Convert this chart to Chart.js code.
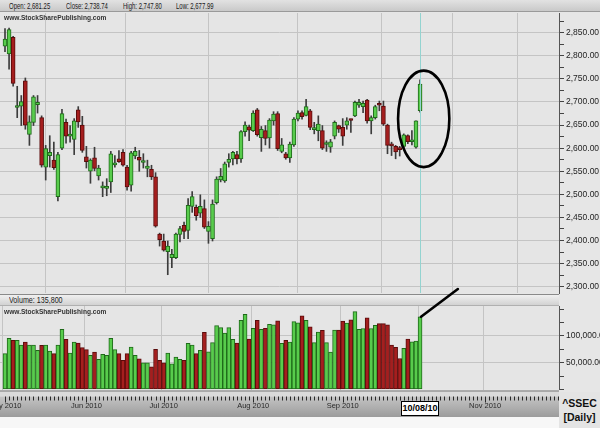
<!DOCTYPE html>
<html><head><meta charset="utf-8">
<script src="https://cdn.jsdelivr.net/npm/chart.js@4.4.1/dist/chart.umd.min.js"></script>
<style>
html,body{margin:0;padding:0;width:600px;height:428px;overflow:hidden;background:#e6e6e6;font-family:"Liberation Sans",Arial,sans-serif;}
.abs{position:absolute;}
#topbar{left:0;top:0;width:600px;height:12px;background:linear-gradient(#e2e2e2,#c9c9c9);border-bottom:1px solid #9a9a9a;box-sizing:border-box;}
#topbar span{position:absolute;top:0;font-size:8.8px;line-height:12px;color:#1a1a1a;white-space:nowrap;transform:scaleX(0.68);transform-origin:0 50%;}
.wm{font-size:6.6px;font-weight:bold;color:#333;white-space:nowrap;}
#volbar{left:0;top:294px;width:559px;height:12px;background:linear-gradient(#f0f0f0,#d2d2d2);border-top:1px solid #8a8a8a;border-bottom:1px solid #b0b0b0;box-sizing:border-box;}
#volbar span{position:absolute;left:9px;top:0;font-size:8.5px;line-height:11px;color:#1a1a1a;transform:scaleX(0.84);transform-origin:0 50%;white-space:nowrap;}
#pc{left:0;top:12px;}
#vc{left:0;top:295px;}
#sym{left:559px;top:392px;width:41px;height:36px;background:#e4e4e4;text-align:center;font-weight:bold;font-size:10.5px;line-height:14px;color:#111;padding-top:4px;box-sizing:border-box;}
#datebox{top:401px;height:15px;width:38px;background:#fff;border:1px solid #000;box-sizing:border-box;font-size:9px;font-weight:bold;line-height:13px;text-align:center;color:#000;}
#bottomwhite{left:0;top:417px;width:559px;height:11px;background:#f7f7f7;}
svg{position:absolute;left:0;top:0;}
</style></head>
<body>
<div id="topbar" class="abs"><span id="tO" style="left:9px"></span><span id="tC" style="left:66px"></span><span id="tH" style="left:123px"></span><span id="tL" style="left:176px"></span></div>
<div id="bottomwhite" class="abs"></div>
<canvas id="pc" class="abs" width="600" height="283"></canvas>
<div class="abs wm" style="left:4px;top:14px;">www.StockSharePublishing.com</div>
<div id="volbar" class="abs"><span id="volTxt"></span></div>
<canvas id="vc" class="abs" width="600" height="133"></canvas>
<div class="abs wm" style="left:4px;top:308px;">www.StockSharePublishing.com</div>
<div id="sym" class="abs">^SSEC<br>[Daily]</div>
<div id="datebox" class="abs"></div>
<svg id="ann" width="600" height="428"></svg>
<script>
// ---- trading-day categories (Shanghai, 2010) ----
const daysMay = [4,5,6,7,10,11,12,13,14,17,18,19,20,21,24,25,26,27,28,31];
const daysJun = [1,2,3,4,7,8,9,10,11,17,18,21,22,23,24,25,28,29,30];
const daysJul = [1,2,5,6,7,8,9,12,13,14,15,16,19,20,21,22,23,26,27,28,29,30];
const daysAug = [2,3,4,5,6,9,10,11,12,13,16,17,18,19,20,23,24,25,26,27,30,31];
const daysSep = [1,2,3,6,7,8,9,10,13,14,15,16,17,20,21,27,28,29,30];
const daysOct = [8,11,12,13,14,15,18,19,20,21,22,25,26,27,28,29];
const daysNov = [1,2,3,4,5,8,9,10,11,12,15,16,17,18,19,22,23,24,25,26,29,30];
const monthLabels = ['May 2010','Jun 2010','Jul 2010','Aug 2010','Sep 2010','Oct 2010','Nov 2010'];
const monthNums = [5,6,7,8,9,10,11];

// ---- daily OHLC (May 4 – Oct 8, 2010) ----
const open = [2821,2804,2840,2688,2691,2746,2630,2656,2694,2666,2559,2584,2574,2495,2600,2656,2626,2619,2683,2650,
2581,2550,2579,2540,2514,2513,2527,2564,2577,2591,2559,2520,2583,2580,2569,2556,2554,2538,2414,2399,
2376,2363,2363,2413,2433,2422,2474,2472,2459,2469,2420,2404,2482,2531,2529,2569,2577,2586,2577,2636,
2646,2638,2683,2623,2638,2622,2659,2675,2593,2588,2579,2607,2663,2677,2671,2681,2640,2638,2638,2608,
2602,2626,2649,2645,2650,2661,2670,2693,2690,2704,2659,2666,2696,2691,2650,2609,2604,2598,2604,2627,
2614,2602,2681.25];
const high = [2859,2860,2842,2734,2714,2752,2670,2714,2714,2670,2606,2627,2613,2591,2684,2663,2649,2664,2690,2669,
2604,2577,2602,2563,2527,2534,2593,2584,2595,2597,2563,2593,2602,2595,2588,2574,2563,2547,2416,2414,
2399,2381,2416,2431,2440,2491,2506,2477,2499,2488,2441,2488,2538,2556,2570,2588,2593,2593,2638,2657,
2650,2681,2686,2647,2649,2664,2679,2679,2621,2591,2613,2666,2681,2681,2706,2684,2656,2670,2649,2616,
2619,2659,2650,2664,2666,2663,2702,2706,2702,2706,2670,2693,2702,2702,2652,2613,2606,2604,2631,2629,
2638,2659,2747.80];
const low = [2809,2771,2734,2666,2649,2641,2606,2649,2676,2559,2531,2559,2554,2486,2597,2611,2613,2586,2645,2591,
2557,2524,2551,2531,2495,2497,2504,2559,2569,2561,2509,2507,2577,2550,2557,2538,2532,2429,2388,2377,
2326,2341,2361,2397,2404,2404,2461,2444,2450,2426,2394,2399,2479,2527,2526,2559,2564,2566,2569,2626,
2616,2636,2626,2593,2607,2600,2650,2595,2590,2576,2569,2604,2659,2663,2670,2640,2631,2616,2597,2593,
2591,2620,2634,2606,2641,2634,2668,2688,2677,2654,2631,2663,2681,2649,2588,2584,2577,2583,2600,2610,
2607,2600,2677.99];
const close = [2836,2857,2740,2690,2701,2650,2657,2711,2699,2563,2599,2591,2558,2586,2675,2626,2630,2659,2657,2595,
2571,2574,2556,2557,2516,2517,2588,2566,2571,2563,2516,2590,2593,2574,2571,2561,2538,2431,2402,2379,
2388,2370,2414,2426,2420,2476,2495,2454,2474,2429,2431,2479,2533,2539,2566,2576,2591,2577,2636,2650,
2639,2676,2629,2641,2621,2661,2674,2599,2607,2579,2609,2663,2676,2668,2690,2645,2642,2652,2600,2610,
2614,2656,2641,2626,2659,2660,2699,2699,2697,2659,2666,2690,2693,2652,2606,2605,2592,2597,2629,2614,
2616,2659,2738.74];
const volume = [66900,95600,91900,91900,83100,88800,83100,83100,73100,82500,83100,71900,66900,83100,112500,93800,68100,88800,86900,78100,
74400,63800,70000,56300,65600,63800,95600,74400,66900,54400,66900,79400,63800,57500,50000,50000,42500,75000,54400,50000,
68100,48100,60600,56300,54400,86300,83100,66900,73100,106900,70600,87500,119400,115600,105600,115600,93800,86900,129400,140600,
94400,114400,129400,112500,114400,121900,120600,128100,86300,91900,88800,126900,124400,137500,129000,117000,87500,107500,110600,87500,
70000,111000,111000,128000,124000,130000,145600,112500,114000,134000,114000,120000,123000,123000,120600,83000,79000,58000,77000,94000,
89000,90600,135800];

// ---- axis tick values ----
const priceTickStep = 25, priceTickFirst = 2300, priceTickLast = 2875, priceLabelStep = 50;
const volTicks = [0,25000,50000,75000,100000,125000,150000];
const volLabelTicks = [50000,100000];

// ---- annotations (data units) ----
const ringBox = {fromIdx: 96.6, toIdx: 109.2, low: 2559, high: 2768};
const arrowEnd = {idx: 111.3, pxAbovePanel: 6};

// build categories
const allMonths = [daysMay,daysJun,daysJul,daysAug,daysSep,daysOct,daysNov];
const dates = []; const monthStart = {};
allMonths.forEach((arr,mi)=>arr.forEach((d,k)=>{ if(k===0) monthStart[dates.length]=monthLabels[mi]; dates.push({m:monthNums[mi],d}); }));
const N = close.length, LAST = N-1;
const idx = Array.from({length:N},(_,i)=>i);
const isUp = i => close[i] >= open[i];
const GREEN='#58cc4c', GREEN_B='#1f6a1a', RED='#a51e1e', RED_B='#5a0b0b';
const X_MIN = -1.23, X_MAX = 136.15;
const monthIdx = Object.keys(monthStart).map(Number);
const f2 = v => v.toLocaleString('en-US',{minimumFractionDigits:2,maximumFractionDigits:2});
const pad2 = n => String(n).padStart(2,'0');

document.getElementById('tO').textContent = 'Open: '+f2(open[LAST]);
document.getElementById('tC').textContent = 'Close: '+f2(close[LAST]);
document.getElementById('tH').textContent = 'High: '+f2(high[LAST]);
document.getElementById('tL').textContent = 'Low: '+f2(low[LAST]);
document.getElementById('volTxt').textContent = 'Volume: '+volume[LAST].toLocaleString('en-US');

const plotBg = {id:'plotBg', beforeDraw(c){const a=c.chartArea,x=c.ctx;x.save();x.fillStyle='#e5e5e5';x.fillRect(a.left,a.top,a.right-a.left,a.bottom-a.top);x.restore();}};
const cursorLine = {id:'cursorLine', afterDatasetsDraw(c){const a=c.chartArea,x=c.ctx;const px=Math.round(c.scales.x.getPixelForValue(LAST))+0.5;x.save();x.strokeStyle='#93d3d0';x.lineWidth=1;x.beginPath();x.moveTo(px,a.top);x.lineTo(px,a.bottom);x.stroke();x.restore();}};

const font = {family:'"Liberation Sans", Arial, sans-serif', size:8.5};

const priceChart = new Chart(document.getElementById('pc'), {
  type:'bar',
  data:{datasets:[
    {data: idx.map(i=>({x:i,y:[open[i],close[i]]})), backgroundColor: idx.map(i=>isUp(i)?GREEN:RED),
     borderColor: idx.map(i=>isUp(i)?GREEN_B:RED_B), borderWidth:1, borderSkipped:false, barThickness:4, minBarLength:2, grouped:false},
    {data: idx.map(i=>({x:i,y:[low[i],high[i]]})), backgroundColor:'#3c3c3c', barThickness:1, grouped:false}
  ]},
  options:{
    animation:false, responsive:false, maintainAspectRatio:false, devicePixelRatio:1,
    layout:{padding:{top:1,bottom:2,left:0,right:0}},
    plugins:{legend:{display:false}, tooltip:{enabled:false}},
    scales:{
      x:{type:'linear', min:X_MIN, max:X_MAX, offset:false,
         ticks:{display:false}, grid:{color:'#c4c4c4', drawTicks:false}, border:{display:false},
         afterBuildTicks:s=>{s.ticks = monthIdx.map(v=>({value:v}));},
         afterFit:s=>{s.height=0; s.paddingLeft=0; s.paddingRight=0;}},
      y:{position:'right', min:2286.4, max:2892.7,
         afterBuildTicks:s=>{const t=[];for(let v=priceTickFirst;v<=priceTickLast;v+=priceTickStep)t.push({value:v});s.ticks=t;},
         ticks:{autoSkip:false, padding:2, color:'#1e1e1e', font, callback:v=> v%priceLabelStep===0? f2(v):''},
         grid:{color:c=>(c.tick && c.tick.value%priceLabelStep===0)?'#c4c4c4':'rgba(0,0,0,0)', tickColor:'#444', tickLength:5, drawTicks:true},
         border:{color:'#555'},
         afterFit:s=>{s.width=41; s.paddingTop=0; s.paddingBottom=0;}}
    }
  },
  plugins:[plotBg,cursorLine]
});

const strip = {id:'strip', beforeDraw(c){const a=c.chartArea,x=c.ctx;x.save();
   const top=a.bottom+1, bot=122;
   x.fillStyle='#dadada';x.fillRect(0,top,a.right,6);
   const g=x.createLinearGradient(0,top+6,0,bot);g.addColorStop(0,'#c4c4c4');g.addColorStop(1,'#9c9c9c');
   x.fillStyle=g;x.fillRect(0,top+6,a.right,bot-top-6);
   x.strokeStyle='#777';x.lineWidth=1;x.beginPath();x.moveTo(0,top+0.5);x.lineTo(a.right,top+0.5);x.stroke();
   x.restore();},
  afterDraw(c){const a=c.chartArea,x=c.ctx,s=c.scales.x;x.save();x.strokeStyle='#2a2a2a';x.lineWidth=1;x.beginPath();
   s.ticks.forEach(t=>{const px=Math.round(s.getPixelForValue(t.value))+0.5;if(px>a.right)return;const big=monthStart[t.value]!==undefined;x.moveTo(px,a.bottom+7);x.lineTo(px,a.bottom+(big?13:11));});
   x.stroke();x.restore();}};

const volChart = new Chart(document.getElementById('vc'), {
  type:'bar',
  data:{datasets:[
    {data: idx.map(i=>({x:i,y:volume[i]})), backgroundColor: idx.map(i=>isUp(i)?GREEN:RED),
     borderColor: idx.map(i=>isUp(i)?GREEN_B:RED_B), borderWidth:1, borderSkipped:false, barThickness:4}
  ]},
  options:{
    animation:false, responsive:false, maintainAspectRatio:false, devicePixelRatio:1,
    layout:{padding:{top:11,bottom:0,left:0,right:0}},
    plugins:{legend:{display:false}, tooltip:{enabled:false}},
    scales:{
      x:{type:'linear', min:X_MIN, max:X_MAX, offset:false,
         afterBuildTicks:s=>{const t=[];for(let i=0;i<dates.length && i<=X_MAX;i++)t.push({value:i});s.ticks=t;},
         ticks:{autoSkip:false, maxRotation:0, minRotation:0, padding:12, color:'#2a2a2a', font:{family:font.family,size:7.5},
                callback:v=> (monthStart[v]!==undefined && v!==LAST)? monthStart[v] : ''},
         grid:{color:c=>(c.tick && monthStart[c.tick.value]!==undefined)?'#c4c4c4':'rgba(0,0,0,0)', drawTicks:false},
         border:{display:false},
         afterFit:s=>{s.height=38.5; s.paddingLeft=0; s.paddingRight=0;}},
      y:{position:'right', min:0, max:156000,
         afterBuildTicks:s=>{s.ticks=volTicks.map(v=>({value:v}));},
         ticks:{autoSkip:false, padding:2, color:'#1e1e1e', font, callback:v=> volLabelTicks.includes(v)? f2(v):''},
         grid:{color:c=>(c.tick && volLabelTicks.includes(c.tick.value))?'#c4c4c4':'rgba(0,0,0,0)', tickColor:'#444', tickLength:5},
         border:{color:'#555'},
         afterFit:s=>{s.width=41; s.paddingTop=0; s.paddingBottom=0;}}
    }
  },
  plugins:[plotBg,strip]
});

// date box under the last bar
const lastPx = volChart.scales.x.getPixelForValue(LAST);
const db = document.getElementById('datebox');
const dd = dates[LAST];
db.textContent = pad2(dd.m)+'/'+pad2(dd.d)+'/10';
db.style.left = (lastPx-19)+'px';

// annotations
const ps = priceChart.scales, vs = volChart.scales;
const pcTop = 12, vcTop = 295;
const ex1 = ps.x.getPixelForValue(ringBox.fromIdx), ex2 = ps.x.getPixelForValue(ringBox.toIdx);
const ey1 = pcTop+ps.y.getPixelForValue(ringBox.high), ey2 = pcTop+ps.y.getPixelForValue(ringBox.low);
const ax1 = vs.x.getPixelForValue(LAST)+1, ay1 = vcTop+vs.y.getPixelForValue(volume[LAST]);
const ax2 = vs.x.getPixelForValue(arrowEnd.idx), ay2 = vcTop-arrowEnd.pxAbovePanel;
document.getElementById('ann').innerHTML =
  `<ellipse cx="${(ex1+ex2)/2}" cy="${(ey1+ey2)/2}" rx="${(ex2-ex1)/2}" ry="${(ey2-ey1)/2}" fill="none" stroke="#000" stroke-width="2.6"/>`+
  `<line x1="${ax1}" y1="${ay1}" x2="${ax2}" y2="${ay2}" stroke="#000" stroke-width="2.6" stroke-linecap="round"/>`;
</script>
</body></html>
